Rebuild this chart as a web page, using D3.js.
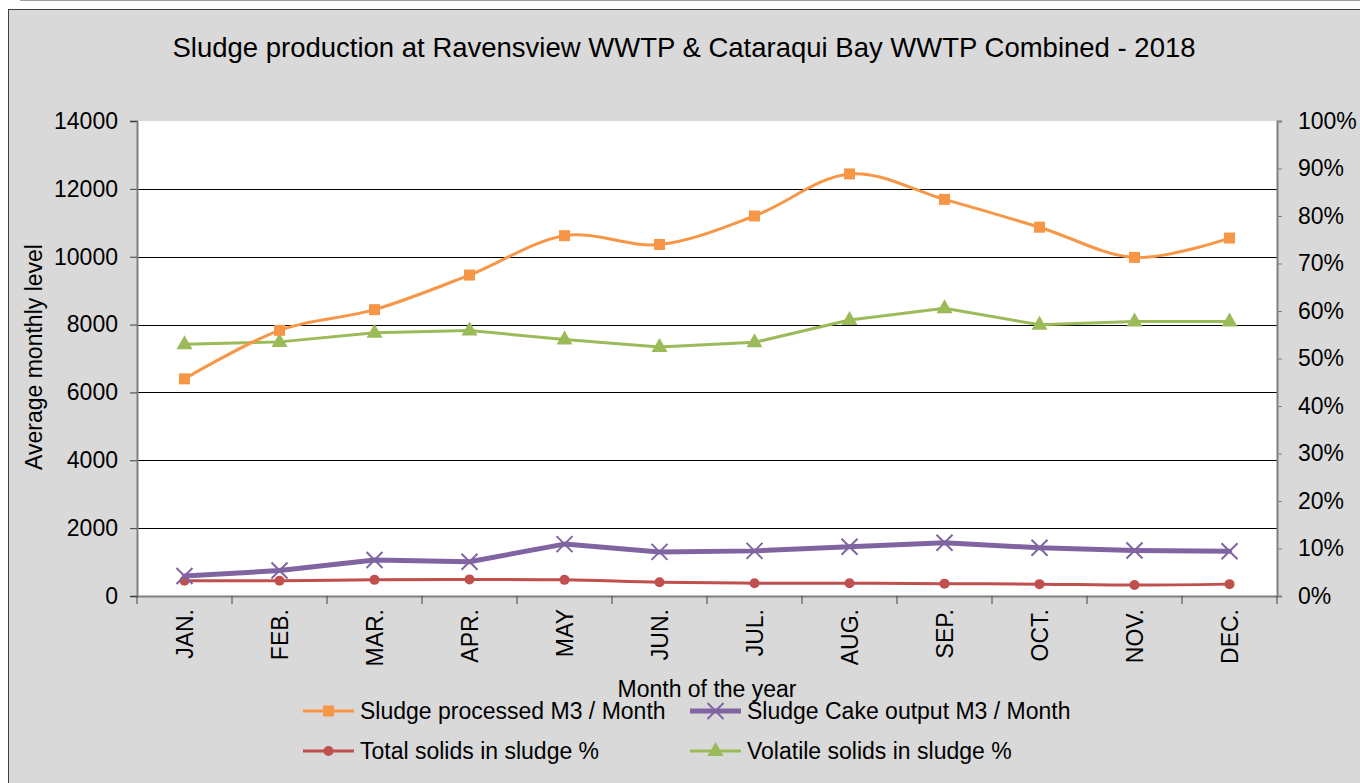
<!DOCTYPE html>
<html>
<head>
<meta charset="utf-8">
<script src="https://cdn.jsdelivr.net/npm/d3@7"></script>
<style>
  body { margin: 0; background: #fff; }
  text { font-family: "Liberation Sans", Arial, sans-serif; fill: #000; }
</style>
</head>
<body>
<svg id="chart"></svg>
<script>
// data
var months = ["JAN.", "FEB.", "MAR.", "APR.", "MAY", "JUN.", "JUL.", "AUG.", "SEP.", "OCT.", "NOV.", "DEC."];
var sludgeProcessed = [6400, 7830, 8440, 9460, 10620, 10360, 11200, 12440, 11690, 10870, 9980, 10550];
var cakeOutput = [590, 750, 1060, 1010, 1530, 1300, 1330, 1450, 1570, 1420, 1340, 1320];
var totalSolids = [0.032, 0.032, 0.034, 0.035, 0.034, 0.029, 0.027, 0.027, 0.026, 0.025, 0.023, 0.025];
var volatileSolids = [0.530, 0.535, 0.554, 0.559, 0.540, 0.524, 0.534, 0.581, 0.606, 0.571, 0.578, 0.578];
var leftTicks = [0, 2000, 4000, 6000, 8000, 10000, 12000, 14000];
var rightTicks = [0, 0.1, 0.2, 0.3, 0.4, 0.5, 0.6, 0.7, 0.8, 0.9, 1];

var W = 1360, H = 783;
var plot = {left: 137, right: 1277, top: 121, bottom: 596};

var svg = d3.select("#chart").attr("width", W).attr("height", H);

// chart frame
svg.append("rect").attr("x", 8.5).attr("y", 9.5).attr("width", W).attr("height", H)
  .attr("fill", "#d9d9d9").attr("stroke", "#404040").attr("stroke-width", 1);
svg.append("line").attr("x1", 20).attr("x2", W).attr("y1", 0.5).attr("y2", 0.5)
  .attr("stroke", "#a0a0a0");

svg.append("rect").attr("x", plot.left).attr("y", plot.top)
  .attr("width", plot.right - plot.left).attr("height", plot.bottom - plot.top)
  .attr("fill", "#fff");

var x = d3.scaleBand().domain(months).range([plot.left, plot.right]);
var yL = d3.scaleLinear().domain([0, 14000]).range([plot.bottom, plot.top]);
var yR = d3.scaleLinear().domain([0, 1]).range([plot.bottom, plot.top]);
var cx = function (d, i) { return x(months[i]) + x.bandwidth() / 2; };

// gridlines
svg.append("g").selectAll("line").data(leftTicks.slice(1, -1)).enter().append("line")
  .attr("x1", plot.left).attr("x2", plot.right)
  .attr("y1", function (d) { return Math.round(yL(d)) + 0.5; })
  .attr("y2", function (d) { return Math.round(yL(d)) + 0.5; })
  .attr("stroke", "#000").attr("stroke-width", 1);

// left axis
var gl = svg.append("g").attr("transform", "translate(" + plot.left + ",0)")
  .call(d3.axisLeft(yL).tickValues(leftTicks).tickSize(7).tickPadding(12).tickFormat(d3.format("d")));
gl.select(".domain").attr("stroke", "#808080").attr("stroke-width", 2);
gl.selectAll(".tick line").attr("stroke", "#404040");
gl.selectAll("text").style("font-size", "23px").attr("fill", "#000");

// right axis
var gr = svg.append("g").attr("transform", "translate(" + plot.right + ",0)")
  .call(d3.axisRight(yR).tickValues(rightTicks).tickSize(5).tickPadding(16).tickFormat(d3.format(".0%")));
gr.select(".domain").attr("stroke", "#808080").attr("stroke-width", 2);
gr.selectAll(".tick line").attr("stroke", "#808080");
gr.selectAll("text").style("font-size", "23px").attr("fill", "#000");

// bottom axis
var gb = svg.append("g").attr("transform", "translate(0," + plot.bottom + ")")
  .call(d3.axisBottom(x).tickSize(0).tickPadding(0));
gb.select(".domain").attr("stroke", "#808080").attr("stroke-width", 2);
gb.selectAll(".tick text")
  .attr("transform", "rotate(-90)")
  .attr("x", -13).attr("y", 0).attr("dy", "0.35em")
  .style("text-anchor", "end").style("font-size", "23px").attr("fill", "#000");
svg.append("g").selectAll("line").data(d3.range(months.length + 1)).enter().append("line")
  .attr("x1", function (i) { return plot.left + i * x.step(); })
  .attr("x2", function (i) { return plot.left + i * x.step(); })
  .attr("y1", plot.bottom).attr("y2", plot.bottom + 8)
  .attr("stroke", "#404040");

// series
var series = [
  {name: "Sludge processed M3 / Month", values: sludgeProcessed, y: yL, color: "#f79646", width: 3, marker: "square", curve: d3.curveCardinal.tension(0)},
  {name: "Sludge Cake output M3 / Month", values: cakeOutput, y: yL, color: "#8064a2", width: 5, marker: "cross", curve: d3.curveLinear},
  {name: "Total solids in sludge %", values: totalSolids, y: yR, color: "#c0504d", width: 3, marker: "circle", curve: d3.curveCardinal.tension(0)},
  {name: "Volatile solids in sludge %", values: volatileSolids, y: yR, color: "#9bbb59", width: 3, marker: "triangle", curve: d3.curveLinear}
];

function drawMarker(g, s, px, py) {
  if (s.marker === "square") {
    g.append("rect").attr("x", px - 5.5).attr("y", py - 5.5).attr("width", 11).attr("height", 11).attr("fill", s.color);
  } else if (s.marker === "circle") {
    g.append("circle").attr("cx", px).attr("cy", py).attr("r", 5).attr("fill", s.color);
  } else if (s.marker === "triangle") {
    g.append("path").attr("d", "M" + px + "," + (py - 9) + "L" + (px + 8) + "," + (py + 5) + "L" + (px - 8) + "," + (py + 5) + "Z").attr("fill", s.color);
  } else {
    g.append("path").attr("d", "M" + (px - 8) + "," + (py - 8) + "L" + (px + 8) + "," + (py + 8) + "M" + (px + 8) + "," + (py - 8) + "L" + (px - 8) + "," + (py + 8))
      .attr("stroke", s.color).attr("stroke-width", 2).attr("fill", "none");
  }
}

var drawOrder = [3, 0, 2, 1];
drawOrder.forEach(function (k) {
  var s = series[k];
  var line = d3.line().x(cx).y(function (d) { return s.y(d); }).curve(s.curve);
  svg.append("path").datum(s.values).attr("d", line)
    .attr("fill", "none").attr("stroke", s.color).attr("stroke-width", s.width)
    .attr("stroke-linejoin", "round").attr("stroke-linecap", "round");
  var g = svg.append("g");
  s.values.forEach(function (v, i) { drawMarker(g, s, cx(v, i), s.y(v)); });
});

// title and axis titles
svg.append("text").attr("x", 684).attr("y", 57).attr("text-anchor", "middle")
  .style("font-size", "27.5px").text("Sludge production at Ravensview WWTP & Cataraqui Bay WWTP Combined  - 2018");
svg.append("text").attr("transform", "translate(42,357) rotate(-90)").attr("text-anchor", "middle")
  .style("font-size", "23px").text("Average monthly level");
svg.append("text").attr("x", 707).attr("y", 697).attr("text-anchor", "middle")
  .style("font-size", "23px").text("Month of the year");

// legend
var legendPos = [[303, 711], [690, 711], [303, 751], [690, 751]];
series.forEach(function (s, i) {
  var g = svg.append("g").attr("transform", "translate(" + legendPos[i][0] + "," + legendPos[i][1] + ")");
  g.append("line").attr("x1", 0).attr("x2", 51).attr("y1", 0).attr("y2", 0)
    .attr("stroke", s.color).attr("stroke-width", s.width);
  drawMarker(g, {marker: s.marker, color: s.color}, 25.5, 0);
  g.append("text").attr("x", 57).attr("y", 0).attr("dy", "0.35em")
    .style("font-size", "23px").text(s.name);
});
</script>
</body>
</html>
